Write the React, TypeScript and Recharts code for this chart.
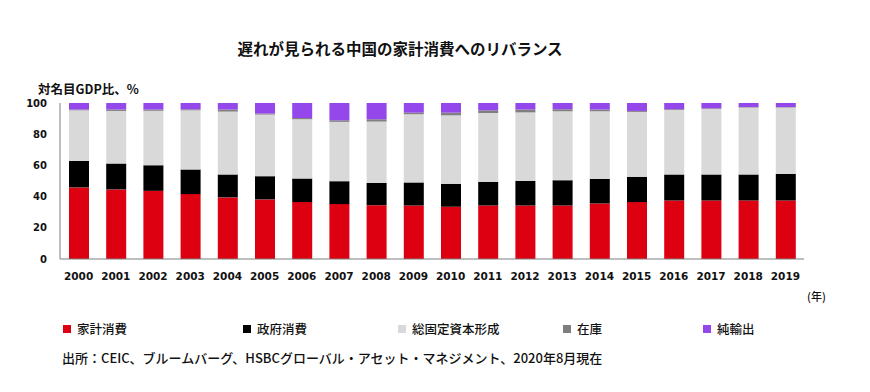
import React from 'react';
import { BarChart, Bar, XAxis, YAxis } from 'recharts';

const years = [
  '2000', '2001', '2002', '2003', '2004', '2005', '2006', '2007', '2008', '2009',
  '2010', '2011', '2012', '2013', '2014', '2015', '2016', '2017', '2018', '2019',
];
const household = [45.9, 44.6, 43.7, 41.6, 39.5, 38.2, 36.5, 35.2, 34.5, 34.3, 33.5, 34.3, 34.3, 34.3, 35.6, 36.5, 37.5, 37.5, 37.5, 37.5];
const government = [17.0, 16.6, 16.4, 15.8, 14.7, 14.9, 15.1, 14.7, 14.3, 14.8, 14.7, 15.2, 15.8, 16.2, 15.8, 16.2, 16.7, 16.7, 16.7, 17.1];
const gfcf = [32.4, 33.7, 34.9, 37.9, 40.3, 39.5, 38.0, 38.0, 39.3, 43.7, 43.9, 44.1, 43.9, 44.2, 43.3, 41.6, 41.3, 42.0, 42.9, 42.5];
const inventory = [0.5, 0.9, 0.8, 0.6, 1.3, 0.6, 0.8, 1.0, 1.5, 1.0, 1.7, 1.7, 1.8, 1.3, 1.1, 0.6, 0.5, 0.4, 0.3, 0.3];
const netExports = [4.2, 4.2, 4.2, 4.1, 4.2, 6.8, 9.6, 11.1, 10.4, 6.2, 6.2, 4.7, 4.2, 4.0, 4.2, 5.1, 4.0, 3.4, 2.6, 2.6];
const yTicks = [0, 20, 40, 60, 80, 100];

const series = [
  { key: 'household', name: '家計消費', color: '#dc0010' },
  { key: 'government', name: '政府消費', color: '#000000' },
  { key: 'gfcf', name: '総固定資本形成', color: '#d9d9d9' },
  { key: 'inventory', name: '在庫', color: '#7f7f7f' },
  { key: 'netExports', name: '純輸出', color: '#9447ea' },
];

const data = years.map((year, i) => ({
  year,
  household: household[i],
  government: government[i],
  gfcf: gfcf[i],
  inventory: inventory[i],
  netExports: netExports[i],
}));

const JP = '"Noto Sans CJK JP", "DejaVu Sans", sans-serif';
const NUM = '"DejaVu Sans", sans-serif';
const legendX = [63, 243, 398, 563, 703];

export default function App() {
  return (
    <div style={{ position: 'absolute', left: 0, top: 0, width: 870, height: 392, background: '#fff' }}>
      <div
        style={{
          position: 'absolute',
          left: 0,
          width: 800,
          top: 37,
          textAlign: 'center',
          fontFamily: JP,
          fontSize: 15.5,
          fontWeight: 700,
          color: '#111',
        }}
      >
        遅れが見られる中国の家計消費へのリバランス
      </div>
      <div style={{ position: 'absolute', left: 38, top: 79, fontFamily: JP, fontSize: 12.5, fontWeight: 700, color: '#111' }}>
        対名目GDP比、%
      </div>
      <div style={{ position: 'absolute', left: 807, top: 288, fontFamily: JP, fontSize: 11, fontWeight: 500, color: '#111' }}>
        (年)
      </div>
      {series.map((s, i) => (
        <div
          key={s.key}
          style={{
            position: 'absolute',
            left: legendX[i],
            top: 319,
            display: 'flex',
            alignItems: 'center',
            fontFamily: JP,
            fontSize: 12.5,
            fontWeight: 500,
            color: '#111',
          }}
        >
          <span style={{ display: 'inline-block', width: 8, height: 8, background: s.color, marginRight: 6 }} />
          {s.name}
        </div>
      ))}
      <div style={{ position: 'absolute', left: 62, top: 348, fontFamily: JP, fontSize: 13, fontWeight: 500, color: '#111' }}>
        出所：CEIC、ブルームバーグ、HSBCグローバル・アセット・マネジメント、2020年8月現在
      </div>
      <BarChart
        width={870}
        height={392}
        data={data}
        margin={{ top: 103, right: 66, bottom: 103, left: 0 }}
        style={{ position: 'absolute', left: 0, top: 0 }}
      >
        <XAxis
          dataKey="year"
          height={30}
          tickLine={false}
          axisLine={{ stroke: '#7f7f7f' }}
          tickMargin={8}
          interval={0}
          tick={{ fontSize: 10.5, fontWeight: 700, fill: '#111', fontFamily: NUM }}
        />
        <YAxis
          width={60}
          domain={[0, 100]}
          ticks={yTicks}
          tickLine={false}
          axisLine={{ stroke: '#7f7f7f' }}
          tickMargin={7}
          tick={{ fontSize: 10, fontWeight: 700, fill: '#111', fontFamily: NUM }}
        />
        {series.map((s) => (
          <Bar
            key={s.key}
            dataKey={s.key}
            name={s.name}
            stackId="gdp"
            fill={s.color}
            barSize={20}
            isAnimationActive={false}
          />
        ))}
      </BarChart>
    </div>
  );
}
